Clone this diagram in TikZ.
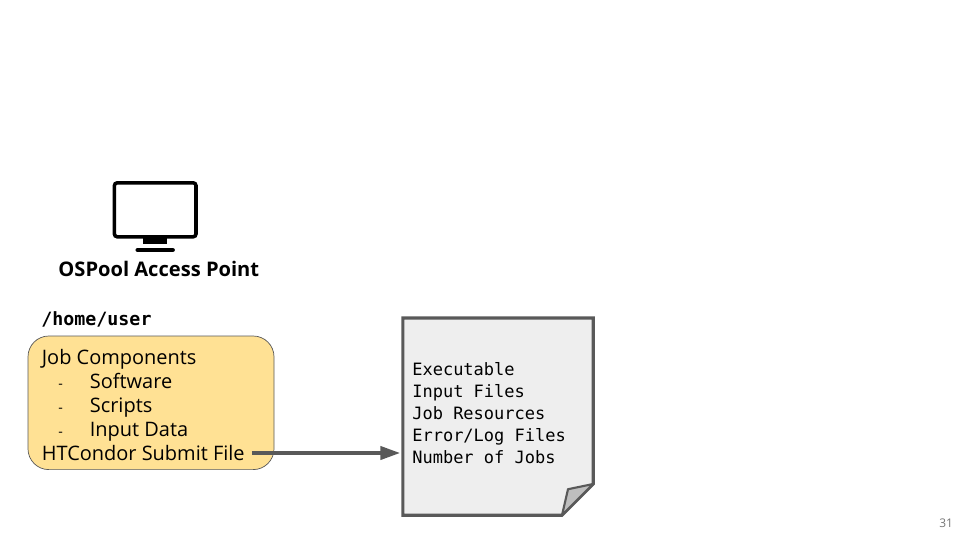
\documentclass[tikz,border=0pt]{standalone}
\usepackage{fontspec}
\setmainfont{Open Sans}
\setmonofont{DejaVu Sans Mono}
\usepackage{tikz}
\usetikzlibrary{calc}
\usetikzlibrary{positioning}
\usetikzlibrary{arrows.meta}
\definecolor{boxfill}{HTML}{FFE194}
\definecolor{linegrey}{HTML}{595959}
\definecolor{paperfill}{HTML}{EEEEEE}
\definecolor{foldfill}{HTML}{BEBEBE}
\definecolor{pagegrey}{HTML}{757575}
\tikzset{
	jobtext/.style={anchor=base west, inner sep=0pt, font=\fontsize{14.2pt}{17pt}\selectfont},
	filetext/.style={anchor=base west, inner sep=0pt, font=\fontsize{12.1pt}{15pt}\selectfont\ttfamily},
	dashtext/.style={anchor=base west, inner sep=0pt, font=\fontsize{10pt}{12pt}\selectfont},
}
\begin{document}
\begin{tikzpicture}
					\useasboundingbox (0, 0) rectangle (24, 13.5);

					% monitor
					\draw[line width=2.5pt, rounded corners=2pt] (2.86, 7.58) rectangle (4.9, 8.93);
					\fill (3.58, 7.6) rectangle (4.17, 7.4);
					\draw[line width=3pt, line cap=round] (3.44, 7.25) -- (4.32, 7.25);
					\node[anchor=base, inner sep=0pt, font=\fontsize{14.3pt}{18pt}\selectfont\bfseries] (title) at (3.97, 6.59) {OSPool Access Point};

					\node[anchor=base west, inner sep=0pt, font=\fontsize{13pt}{15pt}\selectfont\ttfamily\bfseries] (home) at (1.03, 5.37) {/home/user};

					% job box
					\draw[draw=linegrey, fill=boxfill, line width=0.5pt, rounded corners=0.52cm] (0.7, 1.76) rectangle (6.85, 5.1);
					\node[jobtext] (components) at (1.04, 4.395) {Job Components};
					\node[jobtext] (software) at (2.24, 3.795) {Software};
					\node[jobtext] (scripts) at (2.24, 3.195) {Scripts};
					\node[jobtext] (data) at (2.24, 2.595) {Input Data};
					\node[jobtext] (submit) at (1.04, 1.995) {HTCondor Submit File};
					\node[dashtext] (dasha) at (1.45, 3.795) {-};
					\node[dashtext] (dashb) at (1.45, 3.195) {-};
					\node[dashtext] (dashc) at (1.45, 2.595) {-};

					% submit file
					\coordinate (A) at (10.07, 5.55);
					\coordinate (B) at (14.83, 5.55);
					\coordinate (C) at (14.83, 1.4);
					\coordinate (D) at (14.05, 0.62);
					\coordinate (E) at (10.07, 0.62);
					\coordinate (F) at (14.2, 1.27);
					\coordinate (G) at (10, 2.175);
					\draw[draw=linegrey, fill=paperfill, line width=2.2pt] (A) -- (B) -- (C) -- (D) -- (E) -- cycle;
					\draw[draw=linegrey, fill=foldfill, line width=1.5pt, line join=round] (C) -- (F) -- (D) -- cycle;
					\node[filetext] (exe) at (10.3, 4.125) {Executable};
					\node[filetext] (input) at (10.3, 3.575) {Input Files};
					\node[filetext] (res) at (10.3, 3.025) {Job Resources};
					\node[filetext] (err) at (10.3, 2.475) {Error/Log Files};
					\node[filetext] (num) at (10.3, 1.925) {Number of Jobs};

					\draw[draw=linegrey, line width=2.2pt, -{Triangle[length=14pt, width=9.5pt]}] ([xshift=5pt]submit.east |- G) -- (G);

					\node[anchor=base east, inner sep=0pt, text=pagegrey, font=\fontsize{8.5pt}{10pt}\selectfont] (page) at (23.83, 0.32) {31};
				\end{tikzpicture}
\end{document}
